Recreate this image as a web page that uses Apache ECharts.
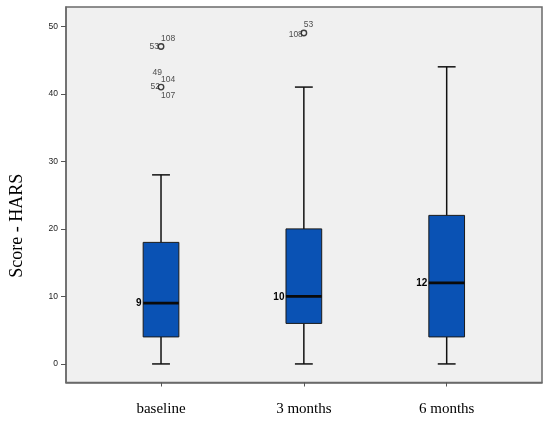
<!DOCTYPE html>
<html>
<head>
<meta charset="utf-8">
<script src="https://cdn.jsdelivr.net/npm/echarts@6/dist/echarts.min.js"></script>
<style>
html,body{margin:0;padding:0;background:#fff;}
#chart{width:550px;height:421px;}
</style>
</head>
<body>
<div id="chart"></div>
<script>
// ---- data ----
const categories = ['baseline', '3 months', '6 months'];
const whiskerMin = [0, 0, 0];
const quartile1 = [4, 6, 4];
const medians = [9, 10, 12];
const quartile3 = [18, 20, 22];
const whiskerMax = [28, 41, 44];
const outlierCategory = [0, 0, 0, 0, 0, 0, 1, 1];
const outlierValues = [47, 47, 41, 41, 41, 41, 49, 49];
const outlierCases = ['53', '108', '49', '104', '52', '107', '108', '53'];
const yTicks = [0, 10, 20, 30, 40, 50];

// ---- label placement (style, not data) ----
const outlierLabelPlacement = [
  {position: 'left', distance: 2, offset: [0, 0]},
  {position: 'right', distance: 0, offset: [0, -7.5]},
  {position: 'left', distance: 0, offset: [1, -14]},
  {position: 'right', distance: 0, offset: [0, -7.7]},
  {position: 'left', distance: 1, offset: [0, 0]},
  {position: 'right', distance: 0, offset: [0, 9]},
  {position: 'left', distance: 1, offset: [0, 1.5]},
  {position: 'right', distance: 0, offset: [0, -8]}
];

const boxData = categories.map((c, i) => [i, whiskerMin[i], quartile1[i], medians[i], quartile3[i], whiskerMax[i]]);

const seen = {};
const outlierPoints = [];
outlierCategory.forEach((c, i) => {
  const k = c + '_' + outlierValues[i];
  if (!seen[k]) { seen[k] = true; outlierPoints.push([c, outlierValues[i]]); }
});
const outlierLabelData = outlierCases.map((id, i) => ({
  value: [outlierCategory[i], outlierValues[i]],
  label: Object.assign({show: true, formatter: id}, outlierLabelPlacement[i])
}));

const yMin = -2.75, yMax = 52.86;
const chart = echarts.init(document.getElementById('chart'), null, {renderer: 'canvas'});

const option = {
  animation: false,
  backgroundColor: '#ffffff',
  grid: [
    {left: 66, right: 8, top: 7, bottom: 38.5, show: true, backgroundColor: '#f0f0f0', borderColor: '#6a6a6a', borderWidth: 1.5},
    {left: 89.6, right: 31.9, top: 7, bottom: 38.5}
  ],
  xAxis: [
    {gridIndex: 0, type: 'value', min: 0, max: 1,
     axisLine: {show: true, onZero: false, lineStyle: {color: '#6a6a6a', width: 1.5}},
     axisTick: {show: false}, axisLabel: {show: false}, splitLine: {show: false}},
    {gridIndex: 1, type: 'category', data: categories,
     axisLine: {show: false, onZero: false},
     axisTick: {show: true, alignWithLabel: true, length: 4, lineStyle: {color: '#555', width: 1}},
     axisLabel: {color: '#000', fontFamily: 'Liberation Serif', fontSize: 15, margin: 19},
     splitLine: {show: false}}
  ],
  yAxis: [
    {gridIndex: 0, type: 'value', min: yMin, max: yMax,
     axisLine: {show: true, onZero: false, lineStyle: {color: '#6a6a6a', width: 1.5}},
     axisTick: {show: true, customValues: yTicks, length: 5, lineStyle: {color: '#555', width: 1}},
     axisLabel: {customValues: yTicks, color: '#222', fontFamily: 'Liberation Sans', fontSize: 8.5, margin: 8},
     splitLine: {show: false},
     name: 'Score - HARS', nameLocation: 'middle', nameGap: 40,
     nameTextStyle: {color: '#000', fontFamily: 'Liberation Serif', fontSize: 18, padding: [0, 62, 0, 0]}},
    {gridIndex: 1, type: 'value', min: yMin, max: yMax, show: false}
  ],
  series: [
    {
      type: 'custom', xAxisIndex: 1, yAxisIndex: 1, data: boxData,
      renderItem: function (params, api) {
        const x = api.value(0);
        const pMin = api.coord([x, api.value(1)]);
        const pQ1 = api.coord([x, api.value(2)]);
        const pMed = api.coord([x, api.value(3)]);
        const pQ3 = api.coord([x, api.value(4)]);
        const pMax = api.coord([x, api.value(5)]);
        const band = api.size([1, 0])[0];
        const bw = band * 0.25;
        const cx = pMed[0];
        const lineStyle = {stroke: '#111', lineWidth: 1.5};
        return {
          type: 'group',
          children: [
            {type: 'line', shape: {x1: cx, y1: pMin[1], x2: cx, y2: pQ1[1]}, style: lineStyle},
            {type: 'line', shape: {x1: cx, y1: pQ3[1], x2: cx, y2: pMax[1]}, style: lineStyle},
            {type: 'line', shape: {x1: cx - bw / 4, y1: pMin[1], x2: cx + bw / 4, y2: pMin[1]}, style: lineStyle},
            {type: 'line', shape: {x1: cx - bw / 4, y1: pMax[1], x2: cx + bw / 4, y2: pMax[1]}, style: lineStyle},
            {type: 'rect', shape: {x: cx - bw / 2, y: pQ3[1], width: bw, height: pQ1[1] - pQ3[1]},
             style: {fill: '#0a52b4', stroke: '#1a1a1a', lineWidth: 1}},
            {type: 'line', shape: {x1: cx - bw / 2, y1: pMed[1], x2: cx + bw / 2, y2: pMed[1]},
             style: {stroke: '#0a0a0a', lineWidth: 2.8}},
            {type: 'text', x: cx - bw / 2 - 1.5, y: pMed[1] + 0.5,
             style: {text: String(api.value(3)), align: 'right', verticalAlign: 'middle',
                     fill: '#000', font: 'bold 10px "Liberation Sans Narrow", "Liberation Sans", Arial, sans-serif'}}
          ]
        };
      }
    },
    {
      type: 'scatter', xAxisIndex: 1, yAxisIndex: 1, data: outlierPoints,
      symbol: 'circle', symbolSize: 5.5,
      itemStyle: {color: 'rgba(0,0,0,0)', borderColor: '#111', borderWidth: 1.4}
    },
    {
      type: 'scatter', xAxisIndex: 1, yAxisIndex: 1, data: outlierLabelData,
      symbolSize: 0, silent: true,
      label: {color: '#222', fontFamily: 'Liberation Sans', fontSize: 8.5}
    }
  ]
};
chart.setOption(option);
</script>
</body>
</html>
